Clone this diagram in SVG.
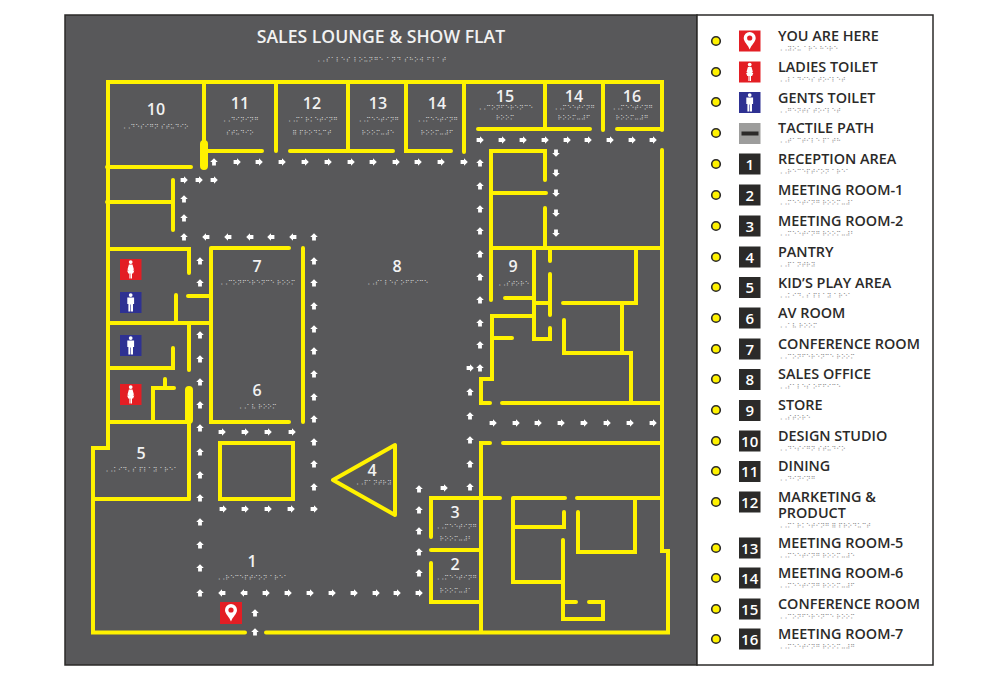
<svg xmlns="http://www.w3.org/2000/svg" width="1000" height="681" viewBox="0 0 1000 681">
<style>
.w{fill:none;stroke:#fff200;stroke-width:4;stroke-linecap:round;stroke-linejoin:miter}
.t{stroke-width:8}
.n{font-family:"Open Sans","Liberation Sans",sans-serif;font-weight:600;font-size:16px;fill:#f2f2f2;text-anchor:middle}
.l{font-family:"Open Sans","Liberation Sans",sans-serif;font-weight:600;font-size:14.400px;fill:#2b2a29}
.b{font-family:"DejaVu Sans",sans-serif;font-size:6.400px;fill:#d0d0d0;text-anchor:middle}
.c{font-family:"DejaVu Sans",sans-serif;font-size:6.400px;fill:#8c8c8c}
.i{font-family:"Open Sans","Liberation Sans",sans-serif;font-weight:600;font-size:15px;fill:#fff;text-anchor:middle}
.d{fill:#fff200;stroke:#2b2a29;stroke-width:1.600}
.k{fill:#2b2a29}.r{fill:#e31e24}.m{fill:#2e3192}
</style>
<defs>
<path id="u" fill="#fff" d="M0-3.800 3.800 0H1.900V3.400H-1.900V0H-3.800Z"/>
<path id="a" fill="#fff" d="M3.800 0 0 3.800V1.900H-3.400V-1.900H0V-3.800Z"/>
<path id="e" fill="#fff" d="M-3.800 0 0 3.800V1.900H3.400V-1.900H0V-3.800Z"/>
<path id="o" fill="#fff" d="M0 3.800 3.800 0H1.900V-3.400H-1.900V0H-3.800Z"/>
<g id="woman" fill="#fff"><circle cx="0" cy="-7.400" r="1.900"/><path d="M-1.800-5H1.800L3.200 0 2 1H3.600L2.400 4H1.300V9H.2V4H-.2V9H-1.300V4H-2.400L-3.600 1H-2L-3.200 0Z"/></g>
<g id="man" fill="#fff"><circle cx="0" cy="-7.400" r="1.900"/><path d="M-3.400-5H3.400V1.500H2.300V9H.3V2H-.3V9H-2.300V1.500H-3.400Z"/></g>
<g id="pin"><path fill="#fff" d="M0 8.500C-1.500 4-6 1-6-3A6 6 0 1 1 6-3C6 1 1.500 4 0 8.500Z"/><circle cx="0" cy="-3" r="2.600" fill="#e31e24"/></g>
</defs>
<rect x="65" y="15" width="632" height="650" fill="#58585a" stroke="#2b2a29" stroke-width="1.500"/>
<rect x="697" y="15" width="236" height="650" fill="#fff" stroke="#2b2a29" stroke-width="1.500"/>
<g id="title">
<text x="381" y="43" class="n" style="font-size:17.600px">SALES LOUNGE &amp; SHOW FLAT</text>
<text x="381" y="62" class="b" textLength="131">⠠⠠⠎⠁⠇⠑⠎ ⠇⠕⠥⠝⠛⠑ ⠁⠝⠙ ⠎⠓⠕⠺ ⠋⠇⠁⠞</text>
</g>
<g id="walls" class="w">
<path d="M245 632.500H93V448H108V82H662V130"/>
<path d="M266 632.500H668V551H662V150"/>
<path d="M204 82V150M204 151H262M276 82V151M290 151H393M348 82V151M406 82V151H451M464 82V152M478 129H590M545 82V129M603 82V130M617 129H662"/>
<path d="M107 167H191M107 202H173M173 180V230"/>
<path d="M108 249H189V273M211 248H289M303 248V422M211 248V422H289M188 296H211M108 323H211M176 295V323M189 323V370M108 368H173V348M108 422H189V499M153 422V388H174M165 379V388"/>
<path class="t" d="M204 144V166M189 390V420"/>
<path d="M93 499H189"/>
<path d="M220 443H293V499H220Z"/>
<path d="M333 480 395 445V515Z" stroke-linejoin="round"/>
<path d="M490 443H481V632M503 443H662M431 537V498H500M431 550H481M431 563V602H481"/>
<path d="M513 498H565M513 498V582H563M513 527H564V512M563 540V619H603V602H589M563 602H576"/>
<path d="M577 498H662M635 498V552H578V512"/>
<path d="M491 300V151H545V180M491 193H546M545 208V248M491 248H662"/>
<path d="M534 248V339H550V328M550 248V261M550 274V315M534 303H550M505 298H534M534 316H492V379H481V403H490M492 338H512"/>
<path d="M502 403H662M631 403V353H564V320M622 353V303M563 303H636V248"/>
</g>
<g id="connectors">
<use href="#u" x="214" y="162"/><use href="#a" x="237" y="162"/><use href="#a" x="259" y="162"/><use href="#a" x="282" y="162"/><use href="#a" x="305" y="162"/><use href="#a" x="328" y="162"/><use href="#a" x="351" y="162"/><use href="#a" x="373" y="162"/><use href="#a" x="396" y="162"/><use href="#a" x="418" y="162"/><use href="#a" x="441" y="162"/><use href="#a" x="464" y="162"/>
<use href="#a" x="184" y="180"/><use href="#a" x="199" y="180"/><use href="#a" x="214" y="180"/>
<use href="#u" x="184" y="199"/><use href="#u" x="184" y="218"/><use href="#u" x="184" y="237"/>
<use href="#e" x="206" y="237"/><use href="#e" x="228" y="237"/><use href="#e" x="250" y="237"/><use href="#e" x="271" y="237"/><use href="#e" x="293" y="237"/>
<use href="#u" x="314" y="237"/><use href="#u" x="314" y="261"/><use href="#u" x="314" y="283"/><use href="#u" x="314" y="306"/><use href="#u" x="314" y="329"/><use href="#u" x="314" y="351"/><use href="#u" x="314" y="374"/><use href="#u" x="314" y="397"/><use href="#u" x="314" y="419"/><use href="#u" x="314" y="442"/><use href="#u" x="314" y="464"/><use href="#u" x="314" y="487"/>
<use href="#a" x="223" y="509"/><use href="#a" x="245" y="509"/><use href="#a" x="268" y="509"/><use href="#a" x="291" y="509"/><use href="#a" x="314" y="509"/>
<use href="#a" x="222" y="432"/><use href="#a" x="245" y="432"/><use href="#a" x="268" y="432"/><use href="#a" x="292" y="432"/>
<use href="#u" x="200" y="261"/><use href="#u" x="200" y="283"/><use href="#u" x="200" y="335"/><use href="#u" x="200" y="359"/><use href="#u" x="200" y="382"/><use href="#u" x="200" y="405"/><use href="#u" x="200" y="428"/><use href="#u" x="200" y="452"/><use href="#u" x="200" y="475"/><use href="#u" x="200" y="498"/><use href="#u" x="200" y="522"/><use href="#u" x="200" y="545"/><use href="#u" x="200" y="568"/><use href="#u" x="200" y="593"/>
<use href="#e" x="222" y="593"/><use href="#e" x="244" y="593"/><use href="#a" x="266" y="593"/><use href="#a" x="288" y="593"/><use href="#a" x="310" y="593"/><use href="#a" x="332" y="593"/><use href="#a" x="354" y="593"/><use href="#a" x="376" y="593"/><use href="#a" x="397" y="593"/><use href="#a" x="419" y="593"/>
<use href="#u" x="255" y="613"/><use href="#u" x="255" y="632"/>
<use href="#u" x="419" y="573"/><use href="#u" x="419" y="552"/><use href="#u" x="419" y="531"/><use href="#u" x="419" y="510"/><use href="#u" x="419" y="489"/>
<use href="#a" x="444" y="488"/><use href="#u" x="470" y="487"/><use href="#u" x="470" y="464"/><use href="#u" x="470" y="440"/><use href="#u" x="470" y="416"/><use href="#u" x="470" y="392"/>
<use href="#a" x="470" y="368"/><use href="#u" x="480" y="368"/><use href="#u" x="480" y="345"/><use href="#u" x="480" y="323"/><use href="#u" x="480" y="300"/><use href="#u" x="480" y="277"/><use href="#u" x="480" y="254"/><use href="#u" x="480" y="231"/><use href="#u" x="480" y="209"/><use href="#u" x="480" y="186"/><use href="#u" x="480" y="163"/>
<use href="#a" x="480" y="140"/><use href="#a" x="502" y="140"/><use href="#a" x="523" y="140"/><use href="#a" x="545" y="140"/><use href="#a" x="567" y="140"/><use href="#a" x="588" y="140"/><use href="#a" x="610" y="140"/><use href="#a" x="632" y="140"/><use href="#a" x="653" y="140"/>
<use href="#o" x="556" y="153"/><use href="#o" x="556" y="173"/><use href="#o" x="556" y="193"/><use href="#o" x="556" y="213"/><use href="#o" x="556" y="233"/>
<use href="#a" x="493" y="423"/><use href="#a" x="516" y="423"/><use href="#a" x="538" y="423"/><use href="#a" x="561" y="423"/><use href="#a" x="584" y="423"/><use href="#a" x="607" y="423"/><use href="#a" x="630" y="423"/><use href="#a" x="653" y="423"/>
</g>
<g id="map-icons">
<rect x="120" y="259" width="21.500" height="21" class="r"/><use href="#woman" x="130.700" y="269.500"/>
<rect x="120" y="292" width="21.500" height="21" class="m"/><use href="#man" x="130.700" y="302.500"/>
<rect x="120" y="335" width="21.500" height="21" class="m"/><use href="#man" x="130.700" y="345.500"/>
<rect x="120" y="384" width="21.500" height="21" class="r"/><use href="#woman" x="130.700" y="394.500"/>
<rect x="220" y="602" width="22" height="22" class="r"/><use href="#pin" x="231" y="613"/>
</g>
<g id="room-1"><text x="252" y="567" class="n">1</text><text x="252" y="580" class="b">⠠⠠⠗⠑⠉⠑⠏⠞⠊⠕⠝ ⠁⠗⠑⠁</text></g>
<g id="room-2"><text x="455" y="570" class="n">2</text><text x="456" y="580" class="b">⠠⠠⠍⠑⠑⠞⠊⠝⠛</text><text x="456" y="593" class="b">⠗⠕⠕⠍⠤⠼⠁</text></g>
<g id="room-3"><text x="455" y="518" class="n">3</text><text x="456" y="529" class="b">⠠⠠⠍⠑⠑⠞⠊⠝⠛</text><text x="456" y="541" class="b">⠗⠕⠕⠍⠤⠼⠃</text></g>
<g id="room-4"><text x="372" y="476" class="n">4</text><text x="373" y="485" class="b">⠠⠠⠏⠁⠝⠞⠗⠽</text></g>
<g id="room-5"><text x="141" y="459" class="n">5</text><text x="141" y="472" class="b">⠠⠠⠅⠊⠙⠄⠎ ⠏⠇⠁⠽ ⠁⠗⠑⠁</text></g>
<g id="room-6"><text x="257" y="396" class="n">6</text><text x="257" y="409" class="b">⠠⠠⠁⠧ ⠗⠕⠕⠍</text></g>
<g id="room-7"><text x="257" y="272" class="n">7</text><text x="257" y="285" class="b">⠠⠠⠉⠕⠝⠋⠑⠗⠑⠝⠉⠑ ⠗⠕⠕⠍</text></g>
<g id="room-8"><text x="397" y="272" class="n">8</text><text x="397" y="285" class="b">⠠⠠⠎⠁⠇⠑⠎ ⠕⠋⠋⠊⠉⠑</text></g>
<g id="room-9"><text x="513" y="272" class="n">9</text><text x="513" y="286" class="b">⠠⠠⠎⠞⠕⠗⠑</text></g>
<g id="room-10"><text x="156" y="115" class="n">10</text><text x="155" y="129" class="b">⠠⠠⠙⠑⠎⠊⠛⠝ ⠎⠞⠥⠙⠊⠕</text></g>
<g id="room-11"><text x="240" y="109" class="n">11</text><text x="240" y="122" class="b">⠠⠠⠙⠊⠝⠊⠝⠛</text><text x="240" y="135" class="b">⠎⠞⠥⠙⠊⠕</text></g>
<g id="room-12"><text x="312" y="109" class="n">12</text><text x="312" y="122" class="b">⠠⠠⠍⠁⠗⠅⠑⠞⠊⠝⠛</text><text x="312" y="135" class="b">⠿ ⠏⠗⠕⠙⠥⠉⠞</text></g>
<g id="room-13"><text x="378" y="109" class="n">13</text><text x="378" y="122" class="b">⠠⠠⠍⠑⠑⠞⠊⠝⠛</text><text x="378" y="135" class="b">⠗⠕⠕⠍⠤⠼⠑</text></g>
<g id="room-14a"><text x="437" y="109" class="n">14</text><text x="437" y="122" class="b">⠠⠠⠍⠑⠑⠞⠊⠝⠛</text><text x="437" y="135" class="b">⠗⠕⠕⠍⠤⠼⠋</text></g>
<g id="room-15"><text x="505" y="102" class="n">15</text><text x="505" y="110" class="b">⠠⠠⠉⠕⠝⠋⠑⠗⠑⠝⠉⠑</text><text x="505" y="120" class="b">⠗⠕⠕⠍</text></g>
<g id="room-14b"><text x="574" y="102" class="n">14</text><text x="574" y="110" class="b">⠠⠠⠍⠑⠑⠞⠊⠝⠛</text><text x="574" y="120" class="b">⠗⠕⠕⠍⠤⠼⠋</text></g>
<g id="room-16"><text x="632" y="102" class="n">16</text><text x="632" y="110" class="b">⠠⠠⠍⠑⠑⠞⠊⠝⠛</text><text x="632" y="120" class="b">⠗⠕⠕⠍⠤⠼⠛</text></g>
<g id="legend">
<g id="lg-here"><circle cx="716" cy="41" r="4.300" class="d"/><rect x="739" y="30.500" width="21.500" height="21" class="r"/><use href="#pin" x="749.700" y="41"/><text x="778" y="41" class="l">YOU ARE HERE</text><text x="778" y="51" class="c">⠠⠠⠽⠕⠥ ⠁⠗⠑ ⠓⠑⠗⠑</text></g>
<g id="lg-ladies"><circle cx="716" cy="72" r="4.300" class="d"/><rect x="739" y="61.500" width="21.500" height="21" class="r"/><use href="#woman" x="749.700" y="72"/><text x="778" y="72" class="l">LADIES TOILET</text><text x="778" y="82" class="c">⠠⠠⠇⠁⠙⠊⠑⠎ ⠞⠕⠊⠇⠑⠞</text></g>
<g id="lg-gents"><circle cx="716" cy="102" r="4.300" class="d"/><rect x="739" y="92" width="21.500" height="21" class="m"/><use href="#man" x="749.700" y="102.500"/><text x="778" y="103" class="l">GENTS TOILET</text><text x="778" y="113" class="c">⠠⠠⠛⠑⠝⠞⠎ ⠞⠕⠊⠇⠑⠞</text></g>
<g id="lg-path"><circle cx="716" cy="133" r="4.300" class="d"/><rect x="739" y="123" width="21.500" height="21" fill="#9d9d9c"/><rect x="741.500" y="131.500" width="17" height="4" class="k"/><text x="778" y="133" class="l">TACTILE PATH</text><text x="778" y="143" class="c">⠠⠠⠞⠁⠉⠞⠊⠇⠑ ⠏⠁⠞⠓</text></g>
<g id="lg-1"><circle cx="716" cy="164" r="4.300" class="d"/><rect x="739" y="153.500" width="21.500" height="21" class="k"/><text x="749.700" y="169.500" class="i">1</text><text x="778" y="164" class="l">RECEPTION AREA</text><text x="778" y="174" class="c">⠠⠠⠗⠑⠉⠑⠏⠞⠊⠕⠝ ⠁⠗⠑⠁</text></g>
<g id="lg-2"><circle cx="716" cy="195" r="4.300" class="d"/><rect x="739" y="184.500" width="21.500" height="21" class="k"/><text x="749.700" y="200.500" class="i">2</text><text x="778" y="195" class="l">MEETING ROOM-1</text><text x="778" y="205" class="c">⠠⠠⠍⠑⠑⠞⠊⠝⠛ ⠗⠕⠕⠍⠤⠼⠁</text></g>
<g id="lg-3"><circle cx="716" cy="226" r="4.300" class="d"/><rect x="739" y="215.500" width="21.500" height="21" class="k"/><text x="749.700" y="231.500" class="i">3</text><text x="778" y="226" class="l">MEETING ROOM-2</text><text x="778" y="236" class="c">⠠⠠⠍⠑⠑⠞⠊⠝⠛ ⠗⠕⠕⠍⠤⠼⠃</text></g>
<g id="lg-4"><circle cx="716" cy="257" r="4.300" class="d"/><rect x="739" y="246.500" width="21.500" height="21" class="k"/><text x="749.700" y="262.500" class="i">4</text><text x="778" y="257" class="l">PANTRY</text><text x="778" y="267" class="c">⠠⠠⠏⠁⠝⠞⠗⠽</text></g>
<g id="lg-5"><circle cx="716" cy="287" r="4.300" class="d"/><rect x="739" y="277" width="21.500" height="21" class="k"/><text x="749.700" y="293" class="i">5</text><text x="778" y="288" class="l">KID’S PLAY AREA</text><text x="778" y="298" class="c">⠠⠠⠅⠊⠙⠄⠎ ⠏⠇⠁⠽ ⠁⠗⠑⠁</text></g>
<g id="lg-6"><circle cx="716" cy="318" r="4.300" class="d"/><rect x="739" y="307.500" width="21.500" height="21" class="k"/><text x="749.700" y="323.500" class="i">6</text><text x="778" y="318" class="l">AV ROOM</text><text x="778" y="328" class="c">⠠⠠⠁⠧ ⠗⠕⠕⠍</text></g>
<g id="lg-7"><circle cx="716" cy="349" r="4.300" class="d"/><rect x="739" y="338.500" width="21.500" height="21" class="k"/><text x="749.700" y="354.500" class="i">7</text><text x="778" y="349" class="l">CONFERENCE ROOM</text><text x="778" y="359" class="c">⠠⠠⠉⠕⠝⠋⠑⠗⠑⠝⠉⠑ ⠗⠕⠕⠍</text></g>
<g id="lg-8"><circle cx="716" cy="379" r="4.300" class="d"/><rect x="739" y="369" width="21.500" height="21" class="k"/><text x="749.700" y="385" class="i">8</text><text x="778" y="379" class="l">SALES OFFICE</text><text x="778" y="389" class="c">⠠⠠⠎⠁⠇⠑⠎ ⠕⠋⠋⠊⠉⠑</text></g>
<g id="lg-9"><circle cx="716" cy="410" r="4.300" class="d"/><rect x="739" y="400" width="21.500" height="21" class="k"/><text x="749.700" y="416" class="i">9</text><text x="778" y="410" class="l">STORE</text><text x="778" y="420" class="c">⠠⠠⠎⠞⠕⠗⠑</text></g>
<g id="lg-10"><circle cx="716" cy="441" r="4.300" class="d"/><rect x="739" y="430.500" width="21.500" height="21" class="k"/><text x="749.700" y="446.500" class="i">10</text><text x="778" y="441" class="l">DESIGN STUDIO</text><text x="778" y="451" class="c">⠠⠠⠙⠑⠎⠊⠛⠝ ⠎⠞⠥⠙⠊⠕</text></g>
<g id="lg-11"><circle cx="716" cy="471" r="4.300" class="d"/><rect x="739" y="461" width="21.500" height="21" class="k"/><text x="749.700" y="477" class="i">11</text><text x="778" y="471" class="l">DINING</text><text x="778" y="481" class="c">⠠⠠⠙⠊⠝⠊⠝⠛</text></g>
<g id="lg-12"><circle cx="716" cy="502" r="4.300" class="d"/><rect x="739" y="491.500" width="21.500" height="21" class="k"/><text x="749.700" y="507.500" class="i">12</text><text class="l"><tspan x="778" y="502">MARKETING &amp;</tspan><tspan x="778" y="518">PRODUCT</tspan></text><text x="778" y="528" class="c">⠠⠠⠍⠁⠗⠅⠑⠞⠊⠝⠛ ⠿ ⠏⠗⠕⠙⠥⠉⠞</text></g>
<g id="lg-13"><circle cx="716" cy="548" r="4.300" class="d"/><rect x="739" y="537.500" width="21.500" height="21" class="k"/><text x="749.700" y="553.500" class="i">13</text><text x="778" y="548" class="l">MEETING ROOM-5</text><text x="778" y="558" class="c">⠠⠠⠍⠑⠑⠞⠊⠝⠛ ⠗⠕⠕⠍⠤⠼⠑</text></g>
<g id="lg-14"><circle cx="716" cy="578" r="4.300" class="d"/><rect x="739" y="567.500" width="21.500" height="21" class="k"/><text x="749.700" y="583.500" class="i">14</text><text x="778" y="578" class="l">MEETING ROOM-6</text><text x="778" y="588" class="c">⠠⠠⠍⠑⠑⠞⠊⠝⠛ ⠗⠕⠕⠍⠤⠼⠋</text></g>
<g id="lg-15"><circle cx="716" cy="609" r="4.300" class="d"/><rect x="739" y="598.500" width="21.500" height="21" class="k"/><text x="749.700" y="614.500" class="i">15</text><text x="778" y="609" class="l">CONFERENCE ROOM</text><text x="778" y="619" class="c">⠠⠠⠉⠕⠝⠋⠑⠗⠑⠝⠉⠑ ⠗⠕⠕⠍</text></g>
<g id="lg-16"><circle cx="716" cy="639" r="4.300" class="d"/><rect x="739" y="628.500" width="21.500" height="21" class="k"/><text x="749.700" y="644.500" class="i">16</text><text x="778" y="639" class="l">MEETING ROOM-7</text><text x="778" y="649" class="c">⠠⠠⠍⠑⠑⠞⠊⠝⠛ ⠗⠕⠕⠍⠤⠼⠛</text></g>
</g>
</svg>
